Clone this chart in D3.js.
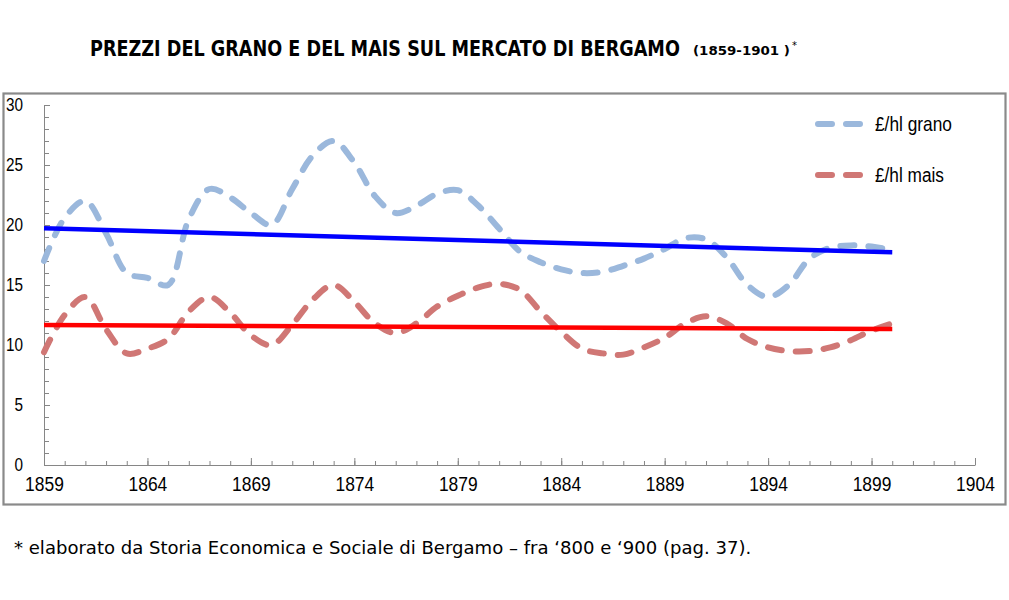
<!DOCTYPE html>
<html>
<head>
<meta charset="utf-8">
<script src="https://cdn.jsdelivr.net/npm/d3@7"></script>
<style>
  body { margin: 0; background: #fff; }
  svg { display: block; }
</style>
</head>
<body>
<svg id="chart" width="1009" height="600"></svg>
<script>
// Anni della serie (prezzi annui)
const YEARS = d3.range(1859, 1901);

// £/hl grano
const GRANO = [
  17, 20.6, 22, 19.3, 16, 15.6, 15, 20.5, 23, 22.3,
  21, 20, 23, 25.8, 27, 25.2, 22.4, 21, 21.6, 22.6,
  22.9, 21.6, 19.7, 17.8, 16.9, 16.3, 16, 16.1, 16.6, 17.2,
  18, 18.9, 18.8, 17.3, 15, 14, 15, 17.2, 18.1, 18.3,
  18.2, 17.9
];

// £/hl mais
const MAIS = [
  9.4, 12.5, 14, 11.3, 9.3, 9.7, 10.5, 12.8, 14, 12.7,
  10.8, 10, 11.7, 13.8, 15, 13.6, 11.8, 11, 11.8, 13.2,
  14.1, 14.8, 15.1, 14.6, 12.8, 11.1, 9.7, 9.3, 9.2, 9.8,
  10.6, 11.8, 12.4, 11.8, 10.5, 9.8, 9.5, 9.5, 9.8, 10.4,
  11.2, 11.8
];

// Linee di tendenza (inizio e fine)
const TREND_YEARS = [1859, 1900];
const TREND_GRANO = [19.72, 17.72];
const TREND_MAIS = [11.67, 11.33];

const X_DOMAIN = [1859, 1904];
const Y_DOMAIN = [0, 30];
const X_LABELS = d3.range(1859, 1905, 5);
const Y_LABELS = d3.range(0, 31, 5);

const LEGEND = ["£/hl grano", "£/hl mais"];

const svg = d3.select("#chart");
const sans = "'Liberation Sans', Arial, sans-serif";
const cond = "'DejaVu Sans Condensed', 'DejaVu Sans', sans-serif";

// Restringe orizzontalmente un testo fino alla larghezza voluta
function fit(text, x0, width) {
  const w = text.node().getComputedTextLength();
  const k = width / w;
  text.attr("x", 0).attr("transform", `translate(${x0},0) scale(${k},1)`);
  return text;
}

// Titolo
fit(svg.append("text")
  .attr("y", 56)
  .style("font-family", cond)
  .style("font-weight", "700")
  .style("font-size", "22px")
  .text("PREZZI DEL GRANO E DEL MAIS SUL MERCATO DI BERGAMO"), 90, 590);

fit(svg.append("text")
  .attr("y", 55)
  .style("font-family", cond)
  .style("font-weight", "700")
  .style("font-size", "13px")
  .text("(1859-1901 )"), 693, 97);

svg.append("text")
  .attr("x", 792).attr("y", 49)
  .style("font-family", "'DejaVu Sans', sans-serif")
  .style("font-size", "10px")
  .text("*");

// Cornice dell'area del grafico
svg.append("rect")
  .attr("x", 3.5).attr("y", 93.5)
  .attr("width", 1002).attr("height", 411)
  .attr("fill", "none")
  .attr("stroke", "#8a8a8a")
  .attr("stroke-width", 2.2);

const x = d3.scaleLinear().domain(X_DOMAIN).range([44, 975]);
const y = d3.scaleLinear().domain(Y_DOMAIN).range([465, 105]);

const gAxes = svg.append("g");

// Asse Y: tacche minori ogni unità, etichette ogni 5
gAxes.append("g")
  .attr("transform", `translate(${x(X_DOMAIN[0])},0)`)
  .call(d3.axisLeft(y).tickValues(d3.range(0, 31, 1)).tickSize(-5).tickFormat(""))
  .call(g => g.select(".domain").remove());

const ySqueeze = 0.85;
gAxes.append("g")
  .attr("transform", `translate(${x(X_DOMAIN[0])},0)`)
  .call(d3.axisLeft(y).tickValues(Y_LABELS).tickSize(-6).tickPadding(21).tickSizeOuter(0))
  .call(g => g.selectAll("text")
    .attr("x", -21 / ySqueeze)
    .attr("transform", `scale(${ySqueeze},1)`)
    .style("font-family", sans)
    .style("font-size", "18px")
    .attr("fill", "#000"));

// Asse X: tacche ogni anno, etichette ogni 5 anni
gAxes.append("g")
  .attr("transform", `translate(0,${y(0)})`)
  .call(d3.axisBottom(x).tickValues(d3.range(1859, 1905)).tickSize(-4).tickFormat(""))
  .call(g => g.select(".domain").remove());

gAxes.append("g")
  .attr("transform", `translate(0,${y(0)})`)
  .call(d3.axisBottom(x).tickValues(X_LABELS).tickFormat(d3.format("d"))
    .tickSize(-7).tickPadding(11).tickSizeOuter(0))
  .call(g => g.selectAll("text")
    .attr("transform", "scale(0.83,1)")
    .style("font-family", sans)
    .style("font-size", "21px")
    .attr("fill", "#000"));

gAxes.selectAll("line, path").attr("stroke", "#868686");

// Serie tratteggiate smussate
const line = d3.line()
  .x((d, i) => x(YEARS[i]))
  .y(d => y(d))
  .curve(d3.curveCatmullRom);

const series = [
  { values: GRANO, color: "#9bb8dc" },
  { values: MAIS, color: "#d07775" }
];

svg.append("g").selectAll("path")
  .data(series)
  .join("path")
  .attr("d", d => line(d.values))
  .attr("fill", "none")
  .attr("stroke", d => d.color)
  .attr("stroke-width", 6)
  .attr("stroke-linecap", "round")
  .attr("stroke-dasharray", "14,14");

// Linee di tendenza
const trendLine = d3.line()
  .x((d, i) => x(TREND_YEARS[i]))
  .y(d => y(d));

svg.append("g").selectAll("path")
  .data([{ values: TREND_GRANO, color: "#0000ff" }, { values: TREND_MAIS, color: "#ff0000" }])
  .join("path")
  .attr("d", d => trendLine(d.values))
  .attr("fill", "none")
  .attr("stroke", d => d.color)
  .attr("stroke-width", 4.5);

// Legenda
const legend = svg.append("g").attr("transform", "translate(818,124)");
LEGEND.forEach((label, i) => {
  const row = legend.append("g").attr("transform", `translate(0,${i * 51})`);
  row.append("line")
    .attr("x1", 0).attr("x2", 44)
    .attr("stroke", series[i].color)
    .attr("stroke-width", 6)
    .attr("stroke-linecap", "round")
    .attr("stroke-dasharray", "14,14");
  fit(row.append("text")
    .attr("y", 7)
    .style("font-family", sans)
    .style("font-size", "20px")
    .text(label), 57, i === 0 ? 77 : 69);
});

// Nota a piè di pagina
fit(svg.append("text")
  .attr("y", 554)
  .style("font-family", "'DejaVu Sans', Verdana, sans-serif")
  .style("font-size", "18px")
  .text("* elaborato da Storia Economica e Sociale di Bergamo – fra ‘800 e ‘900 (pag. 37)."), 14, 738);
</script>
</body>
</html>
